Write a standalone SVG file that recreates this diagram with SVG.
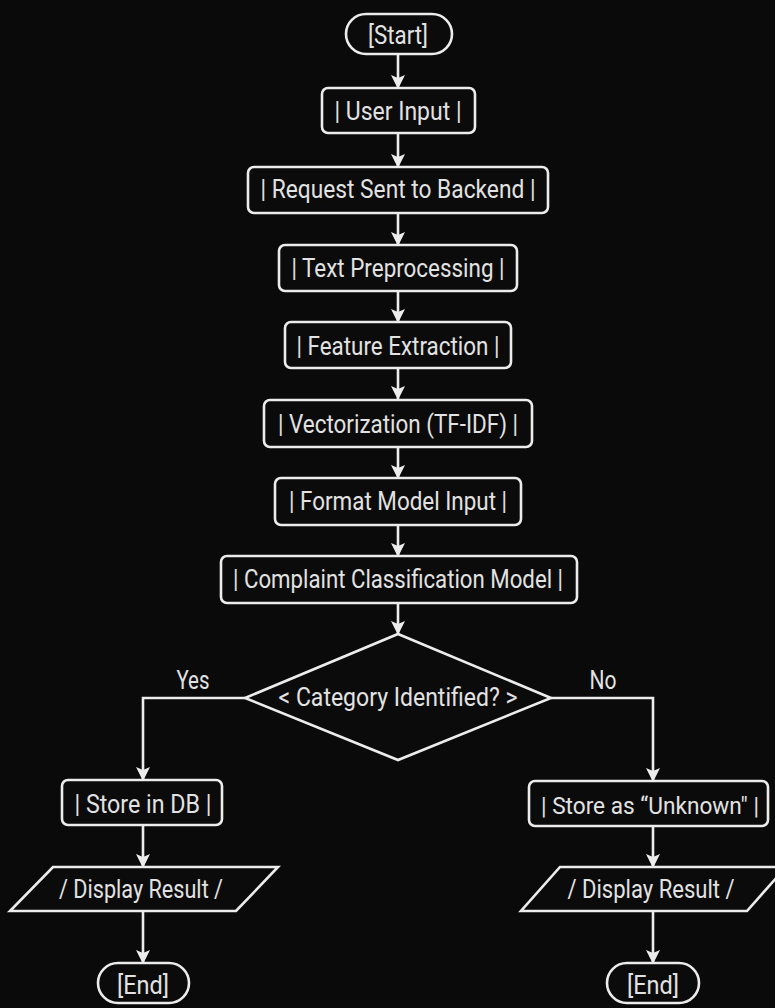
<svg xmlns="http://www.w3.org/2000/svg" width="775" height="1008" viewBox="0 0 775 1008">
<defs>
<marker id="arr" viewBox="0 0 14 14" refX="13" refY="7" markerWidth="14" markerHeight="14" markerUnits="userSpaceOnUse" orient="auto">
<path d="M0,0 L14,7 L0,14 L3,7 Z" fill="#ececec"/>
</marker>
<style>
.n{fill:#0b0b0b;stroke:#ececec;stroke-width:2.6}
.t{font-family:Roboto,"Liberation Sans",sans-serif;font-size:25.5px;fill:#e2e2e2;text-anchor:middle}
.c{fill:none;stroke:#ececec;stroke-width:2.6;marker-end:url(#arr)}
</style>
</defs>
<rect width="775" height="1008" fill="#0a0a0a"/>
<g id="connectors">
<path class="c" d="M398,54 V88"/>
<path class="c" d="M398,133 V167"/>
<path class="c" d="M398,213 V245"/>
<path class="c" d="M398,291 V322"/>
<path class="c" d="M398,368 V399"/>
<path class="c" d="M398,447 V478"/>
<path class="c" d="M398,525 V556"/>
<path class="c" d="M398,603 V634"/>
<path class="c" d="M245,698 H143 V780"/>
<path class="c" d="M551,698 H653 V781"/>
<path class="c" d="M143,825 V867"/>
<path class="c" d="M143,911 V963"/>
<path class="c" d="M653,826 V867"/>
<path class="c" d="M653,911 V963"/>
<text class="t" x="193" y="689" textLength="33" lengthAdjust="spacingAndGlyphs">Yes</text>
<text class="t" x="603" y="689" textLength="27" lengthAdjust="spacingAndGlyphs">No</text>
</g>
<g id="start"><rect class="n" x="346" y="14" width="106" height="40" rx="20"/><text class="t" x="398" y="44" textLength="60" lengthAdjust="spacingAndGlyphs">[Start]</text></g>
<g id="user-input"><rect class="n" x="322" y="88" width="153" height="45" rx="6"/><text class="t" x="398" y="120" textLength="127" lengthAdjust="spacingAndGlyphs">| User Input |</text></g>
<g id="request"><rect class="n" x="248" y="167" width="300" height="46" rx="6"/><text class="t" x="398" y="198" textLength="275" lengthAdjust="spacingAndGlyphs">| Request Sent to Backend |</text></g>
<g id="preprocess"><rect class="n" x="279" y="245" width="238" height="46" rx="6"/><text class="t" x="398" y="277" textLength="213" lengthAdjust="spacingAndGlyphs">| Text Preprocessing |</text></g>
<g id="feature"><rect class="n" x="285" y="322" width="226" height="46" rx="6"/><text class="t" x="398" y="355" textLength="203" lengthAdjust="spacingAndGlyphs">| Feature Extraction |</text></g>
<g id="vector"><rect class="n" x="264" y="400" width="268" height="47" rx="6"/><text class="t" x="398" y="433" textLength="240" lengthAdjust="spacingAndGlyphs">| Vectorization (TF-IDF) |</text></g>
<g id="format"><rect class="n" x="275" y="478" width="246" height="47" rx="6"/><text class="t" x="398" y="510" textLength="218" lengthAdjust="spacingAndGlyphs">| Format Model Input |</text></g>
<g id="model"><rect class="n" x="221" y="556" width="356" height="47" rx="6"/><text class="t" x="398" y="588" textLength="330" lengthAdjust="spacingAndGlyphs">| Complaint Classification Model |</text></g>
<g id="decision"><polygon class="n" points="398,634 551,698 398,760 245,698"/><text class="t" x="398" y="706" textLength="239" lengthAdjust="spacingAndGlyphs">&lt; Category Identified? &gt;</text></g>
<g id="store-db"><rect class="n" x="62" y="780" width="160" height="45" rx="6"/><text class="t" x="143" y="813" textLength="137" lengthAdjust="spacingAndGlyphs">| Store in DB |</text></g>
<g id="store-unknown"><rect class="n" x="529" y="781" width="239" height="45" rx="6"/><text class="t" x="650" y="814" style="font-size:23.5px" textLength="218" lengthAdjust="spacingAndGlyphs">| Store as “Unknown" |</text></g>
<g id="display-left"><polygon class="n" points="53,867 278,867 236,911 10,911"/><text class="t" x="141" y="898" textLength="164" lengthAdjust="spacingAndGlyphs">/ Display Result /</text></g>
<g id="display-right"><polygon class="n" points="560,867 786,867 747,911 521,911"/><text class="t" x="651" y="898" textLength="167" lengthAdjust="spacingAndGlyphs">/ Display Result /</text></g>
<g id="end-left"><rect class="n" x="98" y="963" width="91" height="40" rx="20"/><text class="t" x="143" y="994" textLength="52" lengthAdjust="spacingAndGlyphs">[End]</text></g>
<g id="end-right"><rect class="n" x="607" y="963" width="92" height="40" rx="20"/><text class="t" x="653" y="994" textLength="52" lengthAdjust="spacingAndGlyphs">[End]</text></g>
</svg>
